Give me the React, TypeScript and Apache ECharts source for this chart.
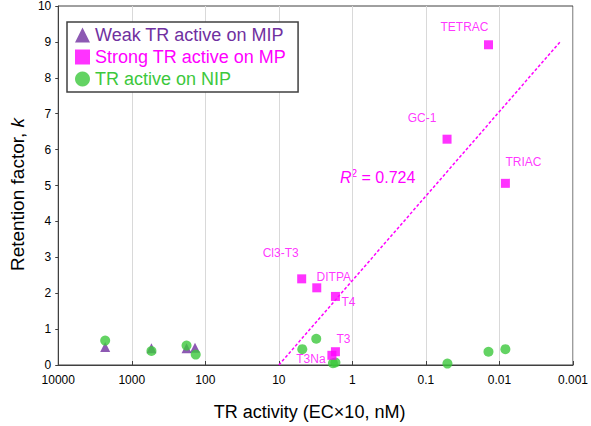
import React, { useEffect, useRef } from "react";
import * as echarts from "echarts";

const weakX = [2300, 540, 180, 138];
const weakY = [0.5, 0.47, 0.47, 0.48];

const strongNames = ["TETRAC", "GC-1", "TRIAC", "Cl3-T3", "DITPA", "T4", "T3", "T3Na"];
const strongX = [0.0141, 0.0516, 0.0083, 4.89, 3.05, 1.7, 1.7, 1.9];
const strongY = [8.92, 6.29, 5.06, 2.4, 2.15, 1.91, 0.37, 0.27];

const nipX = [2300, 540, 180, 135, 4.8, 3.1, 1.84, 1.7, 0.051, 0.0141, 0.0083];
const nipY = [0.68, 0.39, 0.54, 0.29, 0.44, 0.73, 0.05, 0.07, 0.04, 0.37, 0.44];

const trendX = [10, 0.0015];
const trendY = [0, 9.0];

const rSquared = "0.724";

// label placement (styling, not data)
const labelOffsets: [number, number][] = [
  [-24, -18],
  [-25, -21],
  [18, -21],
  [-21, -26],
  [17, -11],
  [13, 6],
  [8, -13],
  [-21, 4],
];

const PURPLE = "#7030A0";
const MAGENTA = "#FF00FF";
const GREEN = "#3CC83C";
const FONT = "Liberation Sans, Arial, sans-serif";

function fmtTick(v: number) {
  if (v >= 1) return String(Math.round(v));
  return String(Number(v.toPrecision(1)));
}

export default function App() {
  const ref = useRef<HTMLDivElement>(null);
  useEffect(() => {
    document.body.style.margin = "0";
    document.body.style.overflow = "hidden";
    if (!ref.current) return;
    const chart = echarts.init(ref.current, undefined, { renderer: "svg" });
    chart.setOption({
      animation: false,
      textStyle: { fontFamily: FONT },
      grid: {
        left: 53,
        right: 14,
        top: 6,
        bottom: 53,
        show: true,
        borderColor: "#404040",
        borderWidth: 1,
        containLabel: false,
      },
      legend: {
        orient: "vertical",
        left: 67,
        top: 22,
        padding: [4, 12, 4, 8],
        itemGap: 4,
        itemWidth: 15,
        itemHeight: 15,
        borderColor: "#404040",
        borderWidth: 1.5,
        backgroundColor: "#fff",
        textStyle: { fontSize: 18, fontFamily: FONT },
        data: [
          { name: "Weak TR active on MIP", icon: "triangle", textStyle: { color: PURPLE, fontSize: 18 } },
          { name: "Strong TR active on MP", icon: "rect", textStyle: { color: MAGENTA, fontSize: 18 } },
          { name: "TR active on NIP", icon: "circle", textStyle: { color: GREEN, fontSize: 18 } },
        ],
      },
      xAxis: {
        type: "log",
        logBase: 10,
        min: 0.001,
        max: 10000,
        inverse: true,
        splitNumber: 7,
        name: "TR activity (EC\u00d710, nM)",
        nameLocation: "middle",
        nameGap: 38,
        nameTextStyle: { fontSize: 18, color: "#000", fontFamily: FONT, padding: [0, 12, 0, 0] },
        axisLine: { lineStyle: { color: "#404040", width: 1 } },
        axisTick: { inside: true, length: 4, lineStyle: { color: "#404040" } },
        axisLabel: { formatter: fmtTick, fontSize: 12, color: "#000", margin: 9 },
        splitLine: { show: true, lineStyle: { color: "#d9d9d9", width: 1 } },
        minorTick: { show: false },
      },
      yAxis: {
        type: "value",
        min: 0,
        max: 10,
        interval: 1,
        name: "{a|Retention factor, }{b|k}",
        nameLocation: "middle",
        nameGap: 31,
        nameTextStyle: {
          padding: [0, 18, 0, 0],
          rich: {
            a: { fontSize: 19, color: "#000", fontFamily: FONT },
            b: { fontSize: 19, color: "#000", fontFamily: FONT, fontStyle: "italic" },
          },
        },
        axisLine: { show: true, lineStyle: { color: "#404040", width: 1 } },
        axisTick: { show: true, inside: false, length: 3, lineStyle: { color: "#404040" } },
        axisLabel: { fontSize: 12, color: "#000", margin: 7 },
        splitLine: { show: false },
      },
      series: [
        {
          name: "Weak TR active on MIP",
          type: "scatter",
          symbol: "triangle",
          symbolSize: 10,
          clip: false,
          itemStyle: { color: PURPLE },
          data: weakX.map((x, i) => [x, weakY[i]]),
          z: 2,
        },
        {
          name: "Strong TR active on MP",
          type: "scatter",
          symbol: "rect",
          symbolSize: 9,
          clip: false,
          itemStyle: { color: MAGENTA },
          data: strongX.map((x, i) => ({
            value: [x, strongY[i]],
            label: {
              show: true,
              formatter: strongNames[i],
              position: "inside",
              offset: labelOffsets[i],
              color: MAGENTA,
              fontSize: 12,
              fontFamily: FONT,
            },
          })),
          z: 4,
        },
        {
          name: "TR active on NIP",
          type: "scatter",
          symbol: "circle",
          symbolSize: 10,
          clip: false,
          itemStyle: { color: GREEN },
          data: nipX.map((x, i) => [x, nipY[i]]),
          z: 3,
        },
        {
          name: "trend",
          type: "line",
          symbol: "none",
          data: trendX.map((x, i) => [x, trendY[i]]),
          lineStyle: { color: MAGENTA, width: 1.5, type: [3, 2] },
          z: 1,
        },
      ],
      graphic: [
        {
          type: "text",
          left: 340,
          top: 168,
          style: {
            text: "{i|R}{s|2}{n| = " + rSquared + "}",
            rich: {
              i: { fontSize: 16, fontStyle: "italic", fill: MAGENTA, fontFamily: FONT },
              s: { fontSize: 10, fill: MAGENTA, fontFamily: FONT, verticalAlign: "top", padding: [0, 0, 8, 0] },
              n: { fontSize: 16, fill: MAGENTA, fontFamily: FONT },
            },
          },
        },
      ],
    });
    return () => chart.dispose();
  }, []);
  return <div ref={ref} style={{ width: 591, height: 426 }} />;
}
